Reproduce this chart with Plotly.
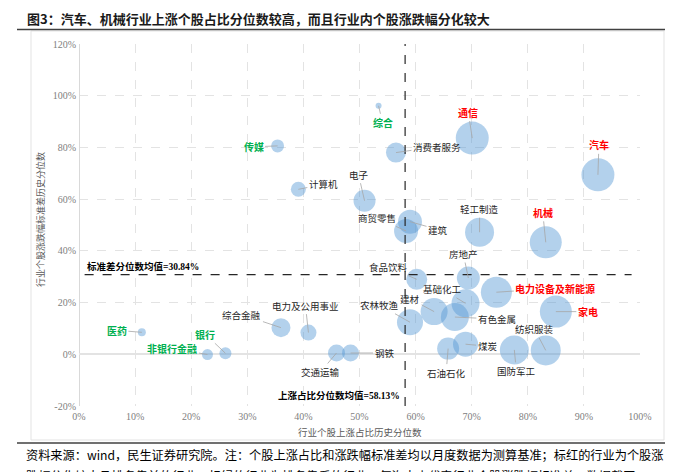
import plotly.graph_objects as go

# 行业数据：上涨占比分位数(x)、涨跌幅标准差分位数(y)、气泡大小
industries = ["综合", "传媒", "计算机", "消费者服务", "通信", "汽车", "电子", "商贸零售", "建筑",
              "轻工制造", "机械", "房地产", "食品饮料", "电力设备及新能源", "基础化工", "家电", "建材",
              "有色金属", "农林牧渔", "纺织服装", "国防军工", "煤炭", "石油石化", "钢铁", "交通运输",
              "电力及公用事业", "综合金融", "银行", "非银行金融", "医药"]
up_pct = [53.4, 35.4, 39.1, 56.5, 70.1, 92.5, 50.9, 58.3, 59.0,
          71.4, 83.2, 69.4, 60.2, 74.4, 68.9, 85.0, 63.3,
          67.0, 59.0, 83.2, 77.6, 68.9, 65.8, 48.4, 45.9,
          40.9, 36.0, 26.1, 22.9, 11.2]
std_pct = [96.1, 80.6, 63.8, 78.0, 83.6, 69.4, 59.4, 47.7, 51.3,
           47.2, 43.3, 29.5, 29.0, 24.0, 19.7, 16.5, 16.5,
           14.4, 12.4, 1.5, 1.7, 3.9, 2.2, 0.5, 0.5,
           8.4, 10.3, 0.4, -0.1, 8.5]
bubble = [6, 13, 15, 20, 33, 33, 22, 24, 24,
          29, 32, 23, 21, 31, 28, 32, 27,
          28, 26, 30, 29, 25, 22, 17, 17,
          16, 19, 12, 11, 8]

red_names = ["通信", "汽车", "机械", "电力设备及新能源", "家电"]
green_names = ["综合", "传媒", "医药", "银行", "非银行金融"]

up_mean = 58.13
std_mean = 30.84

x_ticks = list(range(0, 101, 10))
y_ticks = list(range(-20, 121, 20))

# 标签相对气泡中心的偏移(像素)
label_offsets = {
    "综合": (4, 17), "传媒": (-24, 1), "计算机": (25, -5), "消费者服务": (41, -6),
    "通信": (-4, -26), "汽车": (1, -30), "电子": (-6, -26), "商贸零售": (-29, -13),
    "建筑": (28, 8), "轻工制造": (0, -23), "机械": (-3, -30), "房地产": (-5, -24),
    "食品饮料": (-28, -12), "电力设备及新能源": (59, -4), "基础化工": (-23, -14),
    "家电": (32, 0), "建材": (-24, -13), "有色金属": (42, 2), "农林牧渔": (-30, -17),
    "纺织服装": (-11, -21), "国防军工": (2, 21), "煤炭": (22, 2), "石油石化": (-2, 24),
    "钢铁": (34, 0), "交通运输": (-16, 19), "电力及公用事业": (-3, -27),
    "综合金融": (-39, -13), "银行": (-20, -19), "非银行金融": (-35, -6), "医药": (-25, -2),
}

# 页面 body 默认有 8px 边距，整体向左上收回
W, H = 673, 472
PAD = 8
X0, X1, Y0, Y1 = 79, 640, 44, 406          # 绘图区在截图中的位置
L, T = X0 - PAD, Y0 - PAD
R, B = W - L - (X1 - X0), H - T - (Y1 - Y0)


def px(xp):
    return (xp - X0) / (X1 - X0)


def py(yp):
    return (Y1 - yp) / (Y1 - Y0)


CJK = "Noto Sans CJK SC"
SERIF = "Liberation Serif, Noto Sans CJK SC"

fig = go.Figure()
fig.add_trace(go.Scatter(
    x=up_pct, y=std_pct, mode="markers", text=industries,
    marker=dict(size=bubble, sizemode="diameter", color="rgba(86,152,212,0.64)", line=dict(width=0)),
    hoverinfo="text", showlegend=False,
))

annotations = []
for name, xv, yv in zip(industries, up_pct, std_pct):
    ax, ay = label_offsets[name]
    if name in red_names:
        font = dict(family=CJK, size=10, color="#FF0000", weight="bold")
    elif name in green_names:
        font = dict(family=CJK, size=10, color="#00B050", weight="bold")
    else:
        font = dict(family=CJK, size=9.5, color="#262626")
    annotations.append(dict(x=xv, y=yv, xref="x", yref="y", text=name, font=font,
                            showarrow=True, arrowhead=0, arrowwidth=0.8, arrowcolor="#A6A6A6",
                            ax=ax, ay=ay, standoff=0))

annotations += [
    dict(x=1, y=std_mean, xref="x", yref="y", text="标准差分位数均值=30.84%", showarrow=False,
         xanchor="left", yanchor="bottom", yshift=1,
         font=dict(family=SERIF, size=9.5, color="black", weight="bold")),
    dict(x=up_mean, y=-20, xref="x", yref="y", text="上涨占比分位数均值=58.13%", showarrow=False,
         xanchor="right", yanchor="bottom", xshift=-3, yshift=3,
         font=dict(family=SERIF, size=9.5, color="black", weight="bold")),
    dict(x=px(360), y=py(432), xref="paper", yref="paper", text="行业个股上涨占比历史分位数",
         xanchor="center", yanchor="middle",
         showarrow=False, font=dict(family=CJK, size=9.5, color="#595959")),
    dict(x=px(40), y=py(220), xref="paper", yref="paper", text="行业个股涨跌幅标准差历史分位数",
         xanchor="center", yanchor="middle",
         showarrow=False, textangle=-90, font=dict(family=CJK, size=9, color="#595959")),
    dict(x=px(25), y=py(18.5), xref="paper", yref="paper", xanchor="left", yanchor="middle",
         text="图3：汽车、机械行业上涨个股占比分位数较高，而且行业内个股涨跌幅分化较大",
         showarrow=False, font=dict(family=CJK, size=13, color="#1a1a1a", weight="bold")),
    dict(x=px(24), y=py(455), xref="paper", yref="paper", xanchor="left", yanchor="middle",
         text="资料来源：wind，民生证券研究院。注：个股上涨占比和涨跌幅标准差均以月度数据为测算基准；标红的行业为个股涨",
         showarrow=False, font=dict(family=CJK, size=12.2, color="black")),
    dict(x=px(24), y=py(476), xref="paper", yref="paper", xanchor="left", yanchor="middle",
         text="跌幅分化较大且排名靠前的行业，标绿的行业为排名靠后的行业，气泡大小代表行业个股涨跌幅标准差，数据截至 2022 年 6 月",
         showarrow=False, font=dict(family=CJK, size=12.2, color="black")),
]

shapes = [
    dict(type="line", xref="x", yref="y", x0=up_mean, x1=up_mean, y0=-20, y1=120,
         line=dict(color="#262626", width=1.2, dash="dash")),
    dict(type="line", xref="x", yref="y", x0=1, x1=98.5, y0=std_mean, y1=std_mean,
         line=dict(color="#262626", width=1.2, dash="dash")),
    dict(type="rect", xref="paper", yref="paper", x0=px(31), x1=px(664), y0=py(440), y1=py(31),
         line=dict(color="#E3E3E3", width=1), layer="below"),
    dict(type="line", xref="paper", yref="paper", x0=px(17), x1=px(680), y0=py(29.5), y1=py(29.5),
         line=dict(color="#404040", width=1.5)),
    dict(type="line", xref="paper", yref="paper", x0=px(17), x1=px(680), y0=py(443), y1=py(443),
         line=dict(color="#404040", width=1.5)),
]

fig.update_layout(
    width=W, height=H, margin=dict(l=L, r=R, t=T, b=B, autoexpand=False),
    paper_bgcolor="white", plot_bgcolor="white",
    annotations=annotations, shapes=shapes,
    xaxis=dict(range=[0, 100], tickvals=x_ticks, ticktext=[f"{v}%" for v in x_ticks],
               automargin=False,
               showgrid=True, gridcolor="#E3E3E3", griddash="dash", gridwidth=1,
               zeroline=True, zerolinecolor="#D9D9D9", zerolinewidth=1,
               showline=False, ticks="", ticklabelstandoff=3,
               tickfont=dict(family="Liberation Serif", size=10, color="#808080")),
    yaxis=dict(range=[-20, 120], tickvals=y_ticks, ticktext=[f"{v}%" for v in y_ticks],
               automargin=False,
               showgrid=True, gridcolor="#E3E3E3", griddash="dash", gridwidth=1,
               zeroline=True, zerolinecolor="#E3E3E3", zerolinewidth=2,
               showline=False, ticks="", ticklabelstandoff=2,
               tickfont=dict(family="Liberation Serif", size=10, color="#808080")),
)

fig.write_html("out.html")
